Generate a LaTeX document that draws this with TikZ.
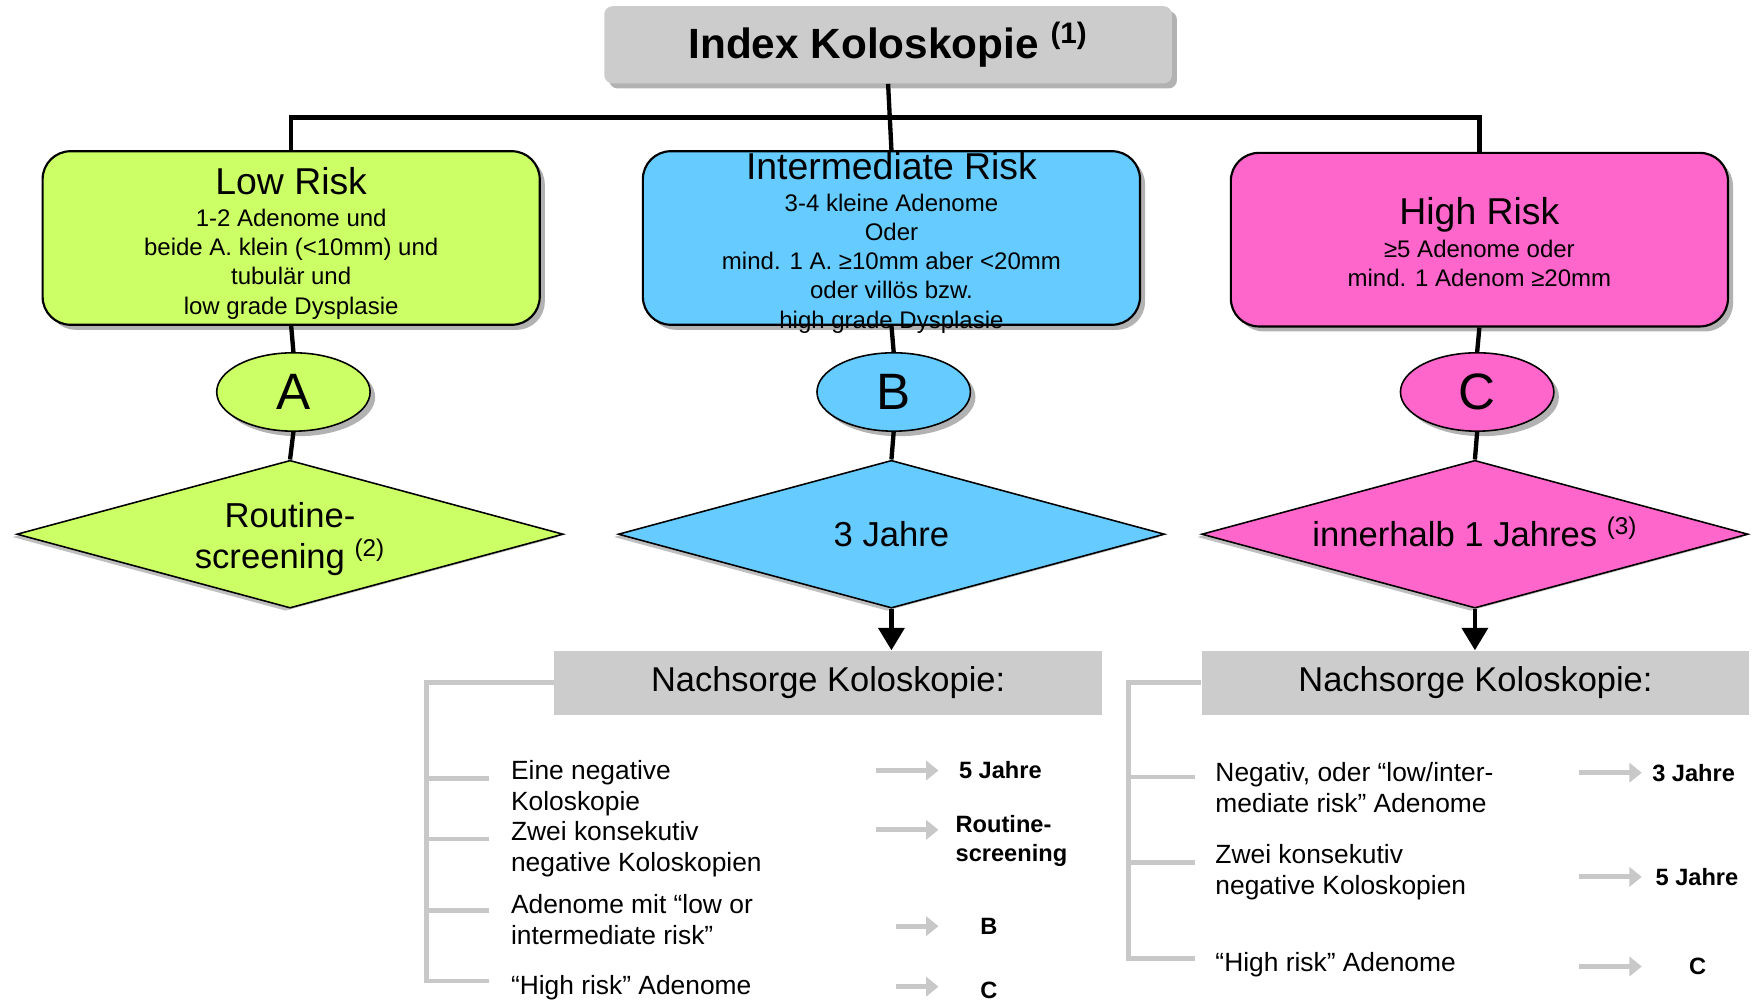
\documentclass[tikz,border=0pt]{standalone}
\usepackage{fontspec}
\setmainfont{Liberation Sans}
\usepackage{tikz}
\usetikzlibrary{arrows.meta,shapes,shadows,positioning}

\definecolor{lowgreen}{HTML}{CCFF66}
\definecolor{midblue}{HTML}{66CCFF}
\definecolor{highpink}{HTML}{FF66CC}
\definecolor{boxgray}{HTML}{CCCCCC}
\definecolor{linegray}{HTML}{C8C8C8}

\begin{document}
\begin{tikzpicture}[x=0.02cm,y=-0.02cm,
  conn/.style={line width=2.2pt},
  boxshadow/.style={drop shadow={shadow xshift=0.09cm,shadow yshift=-0.09cm,opacity=0.3,fill=black}},
  leftshadow/.style={drop shadow={shadow xshift=-0.08cm,shadow yshift=-0.05cm,opacity=0.25,fill=black}},
  titlebox/.style={rectangle,rounded corners=0.15cm,fill=boxgray,minimum width=10.14cm,minimum height=1.38cm,boxshadow,font=\fontsize{21.5}{24}\selectfont\bfseries},
  riskbox/.style={rectangle,rounded corners=0.5cm,draw,line width=1.1pt,minimum width=8.88cm,minimum height=3.1cm,boxshadow},
  risktext/.style={align=center,inner sep=0pt,font=\fontsize{12.2}{14.8}\selectfont},
  letter/.style={ellipse,draw,line width=0.8pt,minimum width=2.74cm,minimum height=1.4cm,inner sep=0pt,boxshadow,font=\fontsize{26}{30}\selectfont},
  interval/.style={diamond,draw,line width=0.8pt,aspect=3.7,minimum width=9.76cm,minimum height=2.64cm,inner sep=0pt,align=center,leftshadow,font=\fontsize{17.6}{21}\selectfont},
  nachbox/.style={rectangle,fill=boxgray,minimum width=9.78cm,minimum height=1.14cm,font=\fontsize{17.5}{20}\selectfont},
  item/.style={anchor=west,align=left,inner sep=0pt,font=\fontsize{13.4}{15.9}\selectfont},
  result/.style={anchor=west,align=left,inner sep=0pt,font=\fontsize{12}{14.8}\selectfont\bfseries},
  bracket/.style={draw=linegray,line width=2.2pt},
  gonext/.style={draw=linegray,line width=2.6pt,-{Triangle[length=0.22cm,width=0.34cm]}}
]
\useasboundingbox (0,0) rectangle (1568,894);

% index colonoscopy and the three risk groups
\node[titlebox] (title) at (793,40) {Index Koloskopie \textsuperscript{(1)}};
\coordinate (bar) at (793,105);

\node[riskbox,fill=lowgreen] (lowbox) at (260,212.5) {};
\node[riskbox,fill=midblue] (midbox) at (796,212.5) {};
\node[riskbox,fill=highpink] (highbox) at (1321,214) {};

\node[letter,fill=lowgreen] (ellA) at (262,350) {A};
\node[letter,fill=midblue] (ellB) at (798,350) {B};
\node[letter,fill=highpink] (ellC) at (1319,350) {C};

\node[interval,fill=lowgreen] (diaA) at (259,477) {\rule{0pt}{17.5pt}Routine-\\screening \textsuperscript{(2)}};
\node[interval,fill=midblue] (diaB) at (796,477) {3 Jahre};
\node[interval,fill=highpink] (diaC) at (1317,477) {innerhalb 1 Jahres \smash{\textsuperscript{(3)}}};

\draw[conn] (title.south) -- (midbox.north);
\draw[conn] (lowbox.north) |- (bar) -| (highbox.north);
\draw[conn] (lowbox.south) -- (ellA.north);
\draw[conn] (midbox.south) -- (ellB.north);
\draw[conn] (highbox.south) -- (ellC.north);
\draw[conn] (ellA.south) -- (diaA.north);
\draw[conn] (ellB.south) -- (diaB.north);
\draw[conn] (ellC.south) -- (diaC.north);

\node[risktext] (lowtext) at ([yshift=-0.09cm]lowbox.center) {{\fontsize{19}{22}\selectfont Low Risk}\\[0.06cm]1-2 Adenome und\\beide A. klein (<10mm) und\\tubulär und\\low grade Dysplasie};
\node[risktext] (midtext) at ([yshift=-0.08cm]midbox.center) {{\fontsize{19}{22}\selectfont Intermediate Risk}\\[0.06cm]3-4 kleine Adenome\\Oder\\mind. 1 A. ≥10mm aber <20mm\\oder villös bzw.\\high grade Dysplasie};
\node[risktext] (hightext) at ([yshift=-0.04cm]highbox.center) {{\fontsize{19}{22}\selectfont High Risk}\\[0.06cm]≥5 Adenome oder\\mind. 1 Adenom ≥20mm};

% follow-up after B
\node[nachbox] (nachB) at (739.5,609.5) {Nachsorge Koloskopie:};
\draw[conn,-{Triangle[length=0.4cm,width=0.46cm]}] (diaB.south) -- (diaB.south |- nachB.north);
\coordinate (brB) at ([xshift=-2.28cm]nachB.west);

\node[item] (itemB1) at (456,704) {Eine negative\\Koloskopie};
\node[item] (itemB2) at (456,758) {Zwei konsekutiv\\negative Koloskopien};
\node[item] (itemB3) at (456,821) {Adenome mit “low or\\intermediate risk”};
\node[item] (itemB4) at (456,882) {“High risk” Adenome};
\coordinate (tB1) at ([xshift=-0.38cm,yshift=0.18cm]itemB1.west);
\coordinate (tB2) at ([xshift=-0.38cm,yshift=0.18cm]itemB2.west);
\coordinate (tB3) at ([xshift=-0.38cm,yshift=0.16cm]itemB3.west);
\coordinate (tB4) at ([xshift=-0.38cm,yshift=0.12cm]itemB4.west);
\draw[bracket] (nachB.west) -- (brB) |- (tB4);
\draw[bracket] (brB |- tB1) -- (tB1);
\draw[bracket] (brB |- tB2) -- (tB2);
\draw[bracket] (brB |- tB3) -- (tB3);

\node[result] (resB1) at (856,688) {5 Jahre};
\node[result] (resB2) at (853,751) {Routine-\\screening};
\node[result] (resB3) at (875,827) {B};
\node[result] (resB4) at (875,884) {C};
\draw[gonext] ([xshift=-1.48cm]resB1.west) -- ([xshift=-0.36cm]resB1.west);
\draw[gonext] ([xshift=-1.42cm,yshift=0.2cm]resB2.west) -- ([xshift=-0.3cm,yshift=0.2cm]resB2.west);
\draw[gonext] ([xshift=-1.5cm]resB3.west) -- ([xshift=-0.74cm]resB3.west);
\draw[gonext] ([xshift=-1.5cm,yshift=0.06cm]resB4.west) -- ([xshift=-0.74cm,yshift=0.06cm]resB4.west);

% follow-up after C
\node[nachbox] (nachC) at (1317.5,609.5) {Nachsorge Koloskopie:};
\draw[conn,-{Triangle[length=0.4cm,width=0.46cm]}] (diaC.south) -- (diaC.south |- nachC.north);
\coordinate (brC) at ([xshift=-1.3cm]nachC.west);

\node[item] (itemC1) at (1085,703) {Negativ, oder “low/inter-\\mediate risk” Adenome};
\node[item] (itemC2) at (1085,779) {Zwei konsekutiv\\negative Koloskopien};
\node[item] (itemC3) at (1085,861) {“High risk” Adenome};
\coordinate (tC1) at ([xshift=-0.36cm,yshift=0.18cm]itemC1.west);
\coordinate (tC2) at ([xshift=-0.36cm,yshift=0.18cm]itemC2.west);
\coordinate (tC3) at ([xshift=-0.36cm,yshift=0.1cm]itemC3.west);
\draw[bracket] (nachC.west) -- (brC) |- (tC3);
\draw[bracket] (brC |- tC1) -- (tC1);
\draw[bracket] (brC |- tC2) -- (tC2);

\node[result] (resC1) at (1475,690) {3 Jahre};
\node[result] (resC2) at (1478,783) {5 Jahre};
\node[result] (resC3) at (1508,863) {C};
\draw[gonext] ([xshift=-1.3cm]resC1.west) -- ([xshift=-0.18cm]resC1.west);
\draw[gonext] ([xshift=-1.36cm]resC2.west) -- ([xshift=-0.24cm]resC2.west);
\draw[gonext] ([xshift=-1.96cm]resC3.west) -- ([xshift=-0.84cm]resC3.west);
\end{tikzpicture}
\end{document}
